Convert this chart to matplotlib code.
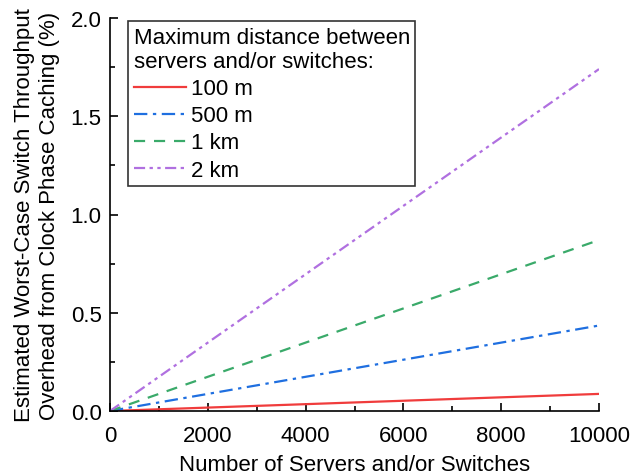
import matplotlib
matplotlib.use("Agg")
import matplotlib.pyplot as plt
from matplotlib.ticker import MultipleLocator

plt.rcParams['font.family'] = ['Liberation Sans', 'DejaVu Sans']

n_nodes = [0, 10000]
labels = ["100 m", "500 m", "1 km", "2 km"]
overhead_100m = [0.0, 0.087]
overhead_500m = [0.0, 0.435]
overhead_1km = [0.0, 0.87]
overhead_2km = [0.0, 1.74]

series = [overhead_100m, overhead_500m, overhead_1km, overhead_2km]
colors = ["#f03c3c", "#1f6fe0", "#3aaa6a", "#b070e0"]
styles = ["-", (0, (6, 2.5, 1.5, 2.5)), (0, (5, 4)), (0, (5, 2, 1.5, 2, 1.5, 2))]

FS = 16

fig = plt.figure(figsize=(6.32, 4.77), dpi=100)
ax = fig.add_axes([110/632, 1-412/477, (599-110)/632, (412-19)/477])

for y, c, ls, lab in zip(series, colors, styles, labels):
    ax.plot(n_nodes, y, color=c, linestyle=ls, linewidth=1.6, label=lab)

ax.set_xlim(0, 10000)
ax.set_ylim(0, 2.0)
ax.xaxis.set_major_locator(MultipleLocator(2000))
ax.xaxis.set_minor_locator(MultipleLocator(1000))
ax.yaxis.set_major_locator(MultipleLocator(0.5))
ax.yaxis.set_minor_locator(MultipleLocator(0.25))
ax.yaxis.set_major_formatter(matplotlib.ticker.FormatStrFormatter('%.1f'))
for s in ['top', 'right']:
    ax.spines[s].set_visible(False)
for s in ['left', 'bottom']:
    ax.spines[s].set_linewidth(1.2)
ax.tick_params(which='major', direction='in', length=6, width=1.2, labelsize=FS)
ax.tick_params(axis='x', which='major', pad=10)
ax.tick_params(axis='y', which='major', pad=6)
ax.tick_params(which='minor', direction='in', length=3.5, width=1.2)

ax.set_xlabel("Number of Servers and/or Switches", fontsize=FS, labelpad=6)
ax.set_ylabel("Estimated Worst-Case Switch Throughput\nOverhead from Clock Phase Caching (%)", fontsize=FS, labelpad=8)

leg = ax.legend(title="Maximum distance between\nservers and/or switches:", loc='upper left',
                bbox_to_anchor=(18/489, 1 - 3/393), fontsize=FS, title_fontsize=FS,
                frameon=True, fancybox=False, edgecolor='black', handlelength=2.35,
                handletextpad=0.25, borderpad=0.25, labelspacing=0.28, borderaxespad=0,
                handleheight=0.6)
leg._legend_box.align = "left"
leg.get_frame().set_linewidth(1.2)

fig.savefig("out.png", dpi=100)
